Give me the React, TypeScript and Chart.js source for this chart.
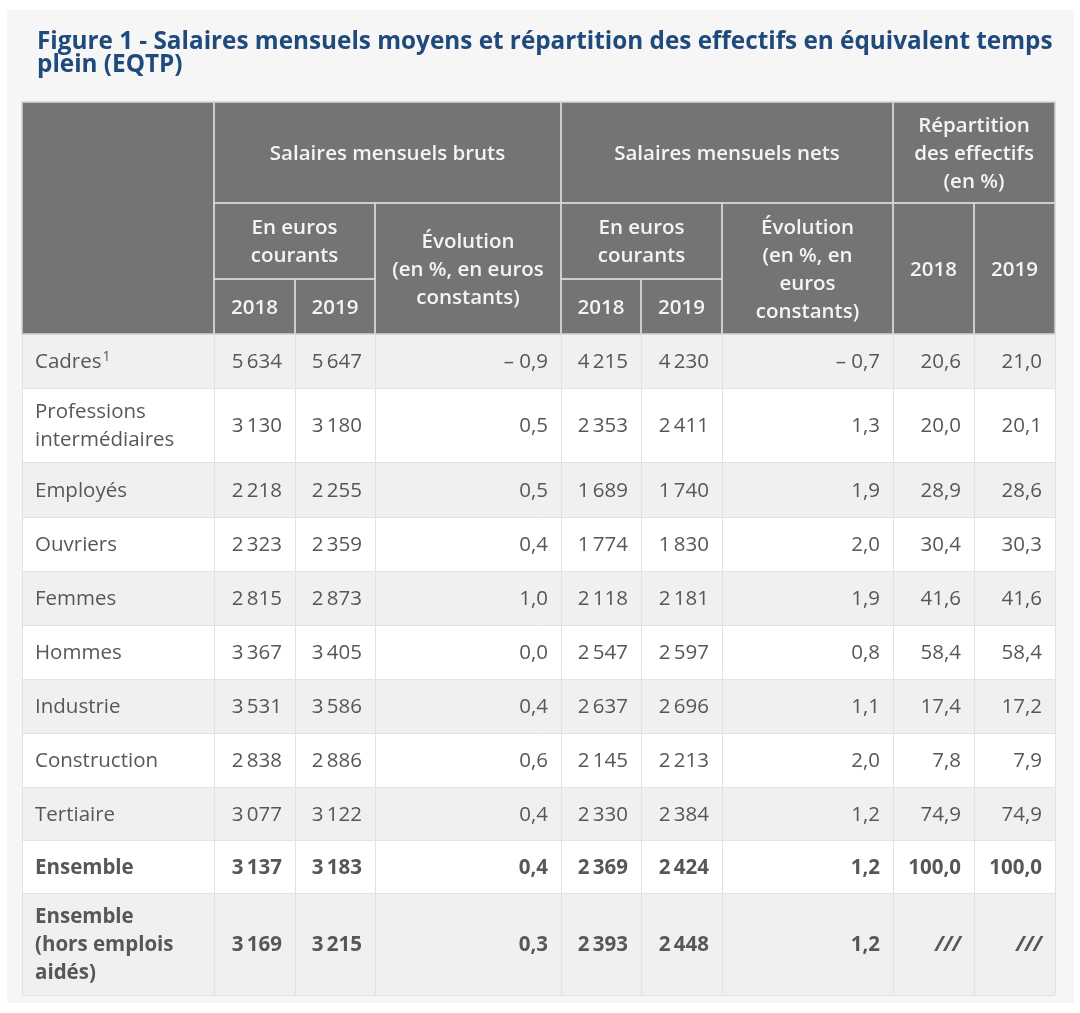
import { useEffect, useRef } from 'react';
import { Chart, registerables } from 'chart.js';

Chart.register(...registerables);

// ---------- DATA ----------
const titleLines = [
  'Figure 1 - Salaires mensuels moyens et répartition des effectifs en équivalent temps',
  'plein (EQTP)',
];

const categories: string[][] = [
  ['Cadres'],
  ['Professions', 'intermédiaires'],
  ['Employés'],
  ['Ouvriers'],
  ['Femmes'],
  ['Hommes'],
  ['Industrie'],
  ['Construction'],
  ['Tertiaire'],
  ['Ensemble'],
  ['Ensemble', '(hors emplois', 'aidés)'],
];
const categoryNotes = ['1', '', '', '', '', '', '', '', '', '', ''];

const brutsEuros2018 = [5634, 3130, 2218, 2323, 2815, 3367, 3531, 2838, 3077, 3137, 3169];
const brutsEuros2019 = [5647, 3180, 2255, 2359, 2873, 3405, 3586, 2886, 3122, 3183, 3215];
const brutsEvolution = [-0.9, 0.5, 0.5, 0.4, 1.0, 0.0, 0.4, 0.6, 0.4, 0.4, 0.3];
const netsEuros2018 = [4215, 2353, 1689, 1774, 2118, 2547, 2637, 2145, 2330, 2369, 2393];
const netsEuros2019 = [4230, 2411, 1740, 1830, 2181, 2597, 2696, 2213, 2384, 2424, 2448];
const netsEvolution = [-0.7, 1.3, 1.9, 2.0, 1.9, 0.8, 1.1, 2.0, 1.2, 1.2, 1.2];
const repartition2018: (number | null)[] = [20.6, 20.0, 28.9, 30.4, 41.6, 58.4, 17.4, 7.8, 74.9, 100.0, null];
const repartition2019: (number | null)[] = [21.0, 20.1, 28.6, 30.3, 41.6, 58.4, 17.2, 7.9, 74.9, 100.0, null];

const headerGroups = ['Salaires mensuels bruts', 'Salaires mensuels nets'];
const headerRepartition = ['Répartition', 'des effectifs', '(en %)'];
const headerEuros = ['En euros', 'courants'];
const headerEvolBruts = ['Évolution', '(en %, en euros', 'constants)'];
const headerEvolNets = ['Évolution', '(en %, en', 'euros', 'constants)'];
const years = ['2018', '2019'];

// ---------- LAYOUT (table units on the chart's scales) ----------
const COL_EDGES = [0, 192, 273, 353, 539, 619, 700, 871, 952, 1033];
const HEAD_EDGES = [0, 101, 177, 232];
const ROW_HEIGHTS = [54, 74, 55, 54, 54, 54, 54, 54, 53, 53, 102];
const BOLD_ROWS = [9, 10];
const TABLE_W = 1033;
const TABLE_H = HEAD_EDGES[3] + ROW_HEIGHTS.reduce((a, b) => a + b, 0);

const FONT = '"Open Sans", "Noto Sans", sans-serif';
const BODY_SIZE = 20.5;
const HEAD_SIZE = 20.5;
const TITLE_SIZE = 24.3;
const LINE_H = 28;

const C = {
  page: '#ffffff',
  panel: '#f6f6f7',
  title: '#1f4a7c',
  head: '#767374',
  headText: '#f4f4f4',
  headLine: '#d4d3d4',
  rowOdd: '#f1f0f1',
  rowEven: '#ffffff',
  bodyLine: '#e3e1e2',
  bodyText: '#575757',
};

const fmtInt = (v: number) => String(v).replace(/\B(?=(\d{3})+(?!\d))/g, '\u2009');
const fmtDec = (v: number) =>
  (v < 0 ? '– ' : '') + Math.abs(v).toFixed(1).replace('.', ',');

type Col = { values: (number | null)[]; fmt: (v: number) => string };
const dataColumns: Col[] = [
  { values: brutsEuros2018, fmt: fmtInt },
  { values: brutsEuros2019, fmt: fmtInt },
  { values: brutsEvolution, fmt: fmtDec },
  { values: netsEuros2018, fmt: fmtInt },
  { values: netsEuros2019, fmt: fmtInt },
  { values: netsEvolution, fmt: fmtDec },
  { values: repartition2018, fmt: fmtDec },
  { values: repartition2019, fmt: fmtDec },
];

type HCell = { c0: number; c1: number; r0: number; r1: number; text: string[] };
const headerCells: HCell[] = [
  { c0: 0, c1: 1, r0: 0, r1: 3, text: [] },
  { c0: 1, c1: 4, r0: 0, r1: 1, text: [headerGroups[0]] },
  { c0: 4, c1: 7, r0: 0, r1: 1, text: [headerGroups[1]] },
  { c0: 7, c1: 9, r0: 0, r1: 1, text: headerRepartition },
  { c0: 1, c1: 3, r0: 1, r1: 2, text: headerEuros },
  { c0: 3, c1: 4, r0: 1, r1: 3, text: headerEvolBruts },
  { c0: 4, c1: 6, r0: 1, r1: 2, text: headerEuros },
  { c0: 6, c1: 7, r0: 1, r1: 3, text: headerEvolNets },
  { c0: 7, c1: 8, r0: 1, r1: 3, text: [years[0]] },
  { c0: 8, c1: 9, r0: 1, r1: 3, text: [years[1]] },
  { c0: 1, c1: 2, r0: 2, r1: 3, text: [years[0]] },
  { c0: 2, c1: 3, r0: 2, r1: 3, text: [years[1]] },
  { c0: 4, c1: 5, r0: 2, r1: 3, text: [years[0]] },
  { c0: 5, c1: 6, r0: 2, r1: 3, text: [years[1]] },
];

const tablePlugin = {
  id: 'tablePlugin',
  beforeDraw(chart: any) {
    const ctx: CanvasRenderingContext2D = chart.ctx;
    ctx.save();
    ctx.fillStyle = C.page;
    ctx.fillRect(0, 0, chart.width, chart.height);
    ctx.fillStyle = C.panel;
    ctx.fillRect(7, 10, 1067, 993);
    ctx.fillStyle = C.title;
    ctx.font = `700 ${TITLE_SIZE}px ${FONT}`;
    ctx.textBaseline = 'alphabetic';
    ctx.textAlign = 'left';
    titleLines.forEach((t, i) => ctx.fillText(t, 37, 48.5 + i * 23.5));
    ctx.restore();
  },
  afterDraw(chart: any) {
    const ctx: CanvasRenderingContext2D = chart.ctx;
    const xs = chart.scales.x;
    const ys = chart.scales.y;
    const X = (v: number) => xs.getPixelForValue(v);
    const Y = (v: number) => ys.getPixelForValue(v);
    ctx.save();

    // header background
    ctx.fillStyle = C.head;
    ctx.fillRect(X(0), Y(0), X(TABLE_W) - X(0), Y(HEAD_EDGES[3]) - Y(0));

    // body rows
    let yv = HEAD_EDGES[3];
    const rowTops: number[] = [];
    ROW_HEIGHTS.forEach((h, i) => {
      rowTops.push(yv);
      ctx.fillStyle = i % 2 === 0 ? C.rowOdd : C.rowEven;
      ctx.fillRect(X(0), Y(yv), X(TABLE_W) - X(0), Y(yv + h) - Y(yv));
      yv += h;
    });

    // body grid
    ctx.strokeStyle = C.bodyLine;
    ctx.lineWidth = 1;
    ctx.beginPath();
    rowTops.concat([TABLE_H]).forEach((r) => {
      const py = Math.round(Y(r)) + 0.5;
      ctx.moveTo(X(0), py);
      ctx.lineTo(X(TABLE_W), py);
    });
    COL_EDGES.forEach((c) => {
      const px = Math.round(X(c)) + 0.5;
      ctx.moveTo(px, Y(HEAD_EDGES[3]));
      ctx.lineTo(px, Y(TABLE_H));
    });
    ctx.stroke();

    // header grid + text
    ctx.strokeStyle = C.headLine;
    ctx.lineWidth = 1.5;
    headerCells.forEach((cell) => {
      const x0 = X(COL_EDGES[cell.c0]);
      const x1 = X(COL_EDGES[cell.c1]);
      const y0 = Y(HEAD_EDGES[cell.r0]);
      const y1 = Y(HEAD_EDGES[cell.r1]);
      ctx.strokeRect(x0, y0, x1 - x0, y1 - y0);
      ctx.fillStyle = C.headText;
      ctx.font = `600 ${HEAD_SIZE}px ${FONT}`;
      ctx.textAlign = 'center';
      ctx.textBaseline = 'alphabetic';
      const cx = (x0 + x1) / 2;
      const cy = (y0 + y1) / 2;
      const n = cell.text.length;
      cell.text.forEach((t, k) => {
        const ly = cy + (k - (n - 1) / 2) * LINE_H;
        ctx.fillText(t, cx, ly + HEAD_SIZE * 0.36);
      });
    });

    // body text
    ctx.fillStyle = C.bodyText;
    ctx.textBaseline = 'alphabetic';
    categories.forEach((lines, i) => {
      const bold = BOLD_ROWS.includes(i);
      const y0 = Y(rowTops[i]);
      const y1 = Y(rowTops[i] + ROW_HEIGHTS[i]);
      const cy = (y0 + y1) / 2;
      const w = bold ? 700 : 400;
      ctx.font = `${w} ${BODY_SIZE}px ${FONT}`;
      ctx.textAlign = 'left';
      const lx = X(COL_EDGES[0]) + 13;
      const n = lines.length;
      lines.forEach((t, k) => {
        const ly = cy + (k - (n - 1) / 2) * LINE_H + BODY_SIZE * 0.36;
        ctx.fillText(t, lx, ly);
        if (k === n - 1 && categoryNotes[i]) {
          const tw = ctx.measureText(t).width;
          ctx.font = `${w} 14px ${FONT}`;
          ctx.fillText(categoryNotes[i], lx + tw + 1, ly - 7);
          ctx.font = `${w} ${BODY_SIZE}px ${FONT}`;
        }
      });
      ctx.textAlign = 'right';
      dataColumns.forEach((col, j) => {
        const v = col.values[i];
        const rx = X(COL_EDGES[j + 2]) - 13;
        const by = cy + BODY_SIZE * 0.36;
        if (v === null) {
          ctx.font = `italic ${w} ${BODY_SIZE}px ${FONT}`;
          ctx.fillText('///', rx, by);
          ctx.font = `${w} ${BODY_SIZE}px ${FONT}`;
        } else {
          ctx.fillText(col.fmt(v), rx, by);
        }
      });
    });

    ctx.restore();
  },
};

export default function App() {
  const ref = useRef<HTMLCanvasElement>(null);
  useEffect(() => {
    if (!ref.current) return;
    const chart = new Chart(ref.current, {
      type: 'scatter',
      data: { datasets: [{ data: [] }] },
      options: {
        animation: false,
        responsive: false,
        devicePixelRatio: 1,
        events: [],
        layout: { padding: { left: 22, top: 102, right: 25, bottom: 1013 - 102 - TABLE_H } },
        plugins: {
          legend: { display: false },
          tooltip: { enabled: false },
          title: { display: false },
        },
        scales: {
          x: { type: 'linear', min: 0, max: TABLE_W, display: false },
          y: { type: 'linear', min: 0, max: TABLE_H, reverse: true, display: false },
        },
      },
      plugins: [tablePlugin],
    });
    return () => chart.destroy();
  }, []);
  return (
    <div style={{ position: 'absolute', left: 0, top: 0, width: 1080, height: 1013 }}>
      <canvas ref={ref} width={1080} height={1013} style={{ display: 'block' }} />
    </div>
  );
}
